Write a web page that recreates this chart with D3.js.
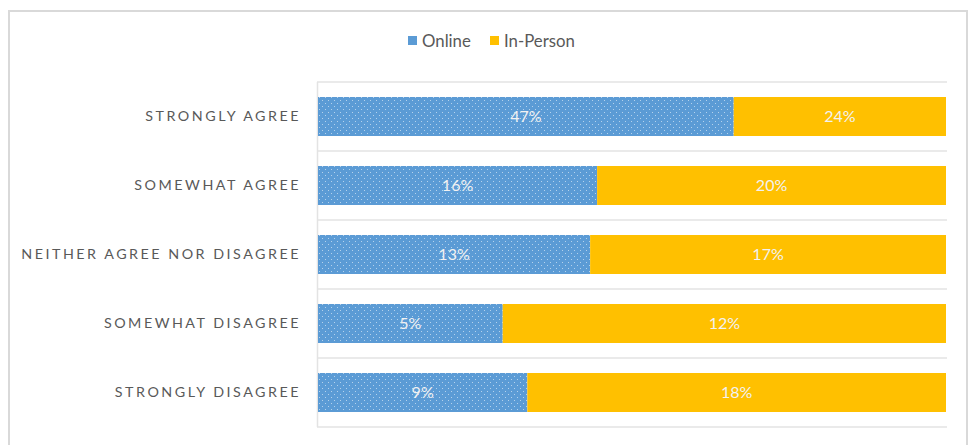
<!DOCTYPE html>
<html>
<head>
<meta charset="utf-8">
<script src="https://cdn.jsdelivr.net/npm/d3@7"></script>
<style>
  html, body { margin: 0; padding: 0; background: #fff; }
  svg { display: block; }
</style>
</head>
<body>
<svg id="chart" width="969" height="445"></svg>
<script>
// Survey responses by delivery mode, drawn as a 100% stacked bar chart
const categories = [
  "STRONGLY AGREE",
  "SOMEWHAT AGREE",
  "NEITHER AGREE NOR DISAGREE",
  "SOMEWHAT DISAGREE",
  "STRONGLY DISAGREE"
];
const seriesNames = ["Online", "In-Person"];
const online = [47, 16, 13, 5, 9];
const inPerson = [24, 20, 17, 12, 18];
const seriesColors = ["#5B9BD5", "#FFC000"];

const svg = d3.select("#chart");

// outer chart frame
svg.append("rect")
  .attr("x", 9).attr("y", 11)
  .attr("width", 958).attr("height", 445)
  .attr("fill", "#fff")
  .attr("stroke", "#d9d9d9").attr("stroke-width", 2);

// dotted fill for the Online series
const defs = svg.append("defs");
const pat = defs.append("pattern")
  .attr("id", "dots")
  .attr("patternUnits", "userSpaceOnUse")
  .attr("width", 6).attr("height", 6);
pat.append("rect").attr("width", 6).attr("height", 6).attr("fill", seriesColors[0]);
pat.append("rect").attr("x", 1).attr("y", 1).attr("width", 1).attr("height", 1)
  .attr("fill", "#fff").attr("opacity", 0.55);
pat.append("rect").attr("x", 4).attr("y", 4).attr("width", 1).attr("height", 1)
  .attr("fill", "#fff").attr("opacity", 0.55);

const plot = { left: 318, right: 946, top: 82, bottom: 427 };

const x = d3.scaleLinear().domain([0, 1]).range([plot.left, plot.right]);
const y = d3.scaleBand().domain(categories)
  .range([plot.top, plot.bottom])
  .paddingInner(0.435).paddingOuter(0.2175);

// category boundary lines
const bounds = d3.range(categories.length + 1).map(i => plot.top + i * (plot.bottom - plot.top) / categories.length);
svg.append("g").selectAll("line").data(bounds).join("line")
  .attr("x1", plot.left - 1).attr("x2", plot.right + 1)
  .attr("y1", d => d).attr("y2", d => d)
  .attr("stroke", "#e3e3e3").attr("stroke-width", 1.5);

// vertical axis line
svg.append("line")
  .attr("x1", plot.left - 0.5).attr("x2", plot.left - 0.5)
  .attr("y1", plot.top).attr("y2", plot.bottom)
  .attr("stroke", "#e3e3e3").attr("stroke-width", 1.5);

// stacked shares
const rows = categories.map((c, i) => ({ cat: c, Online: online[i], "In-Person": inPerson[i] }));
const stack = d3.stack().keys(seriesNames).offset(d3.stackOffsetExpand);
const layers = stack(rows);

const fills = ["url(#dots)", seriesColors[1]];
const g = svg.append("g");
layers.forEach((layer, li) => {
  g.append("g").selectAll("rect").data(layer).join("rect")
    .attr("x", d => x(d[0]))
    .attr("y", d => y(d.data.cat))
    .attr("width", d => x(d[1]) - x(d[0]))
    .attr("height", y.bandwidth())
    .attr("fill", fills[li]);
  g.append("g").selectAll("text").data(layer).join("text")
    .attr("x", d => (x(d[0]) + x(d[1])) / 2)
    .attr("y", d => y(d.data.cat) + y.bandwidth() / 2)
    .attr("dy", "0.35em")
    .attr("text-anchor", "middle")
    .attr("font-family", "Lato, 'Open Sans', sans-serif")
    .attr("font-size", 16)
    .attr("fill", "#f2f2f2")
    .text(d => d.data[layer.key] + "%");
});

// category labels
const yAxis = d3.axisLeft(y).tickSize(0).tickPadding(0);
const ax = svg.append("g").attr("transform", `translate(${plot.left - 17},0)`).call(yAxis);
ax.select(".domain").remove();
ax.selectAll("text")
  .attr("font-family", "Lato, 'Open Sans', sans-serif")
  .attr("font-size", 14.3)
  .attr("fill", "#595959")
  .style("letter-spacing", "2.5px");

// legend
const legend = svg.append("g").attr("font-family", "Lato, 'Open Sans', sans-serif").attr("font-size", 16.8);
const legendItems = [{ name: "Online", x: 408, fill: seriesColors[0] }, { name: "In-Person", x: 490, fill: seriesColors[1] }];
legendItems.forEach(it => {
  legend.append("rect").attr("x", it.x).attr("y", 36).attr("width", 9).attr("height", 9).attr("fill", it.fill);
  legend.append("text").attr("x", it.x + 14).attr("y", 41).attr("dy", "0.35em")
    .attr("fill", "#595959").text(it.name);
});
</script>
</body>
</html>
